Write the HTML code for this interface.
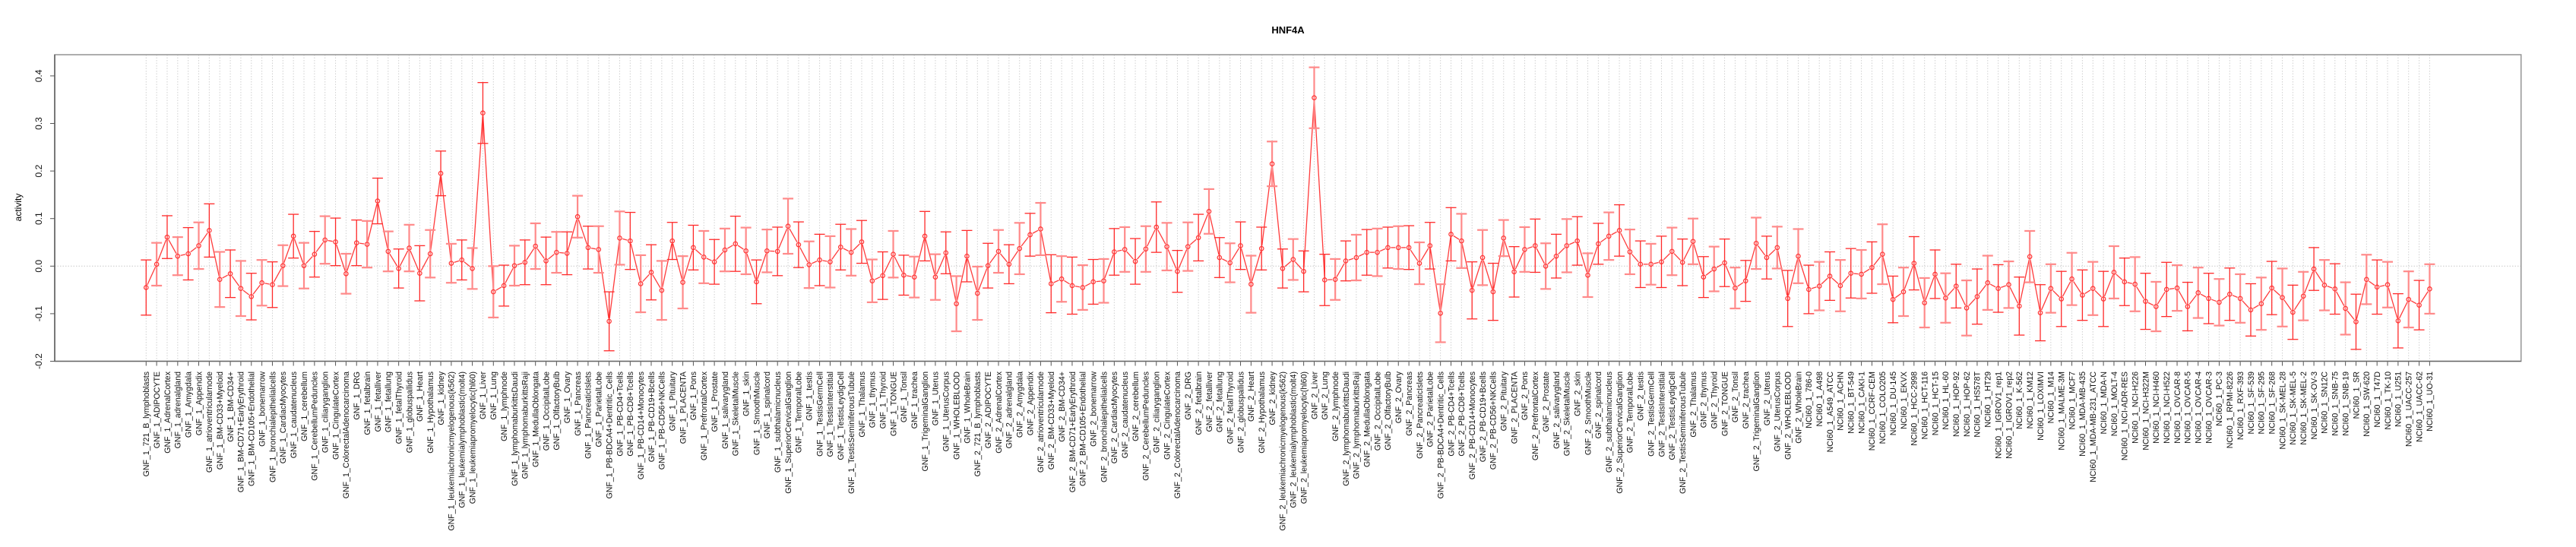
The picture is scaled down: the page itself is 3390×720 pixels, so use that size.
<!DOCTYPE html>
<html><head><meta charset="utf-8"><title>HNF4A</title>
<style>html,body{margin:0;padding:0;background:#fff}svg{display:block}text{font-family:"Liberation Sans",sans-serif}</style>
</head><body>
<svg id="chart" width="3390" height="720" viewBox="0 0 3390 720" xmlns="http://www.w3.org/2000/svg">
<rect x="0" y="0" width="3390" height="720" fill="#fff"/>
<text x="1695" y="44" text-anchor="middle" font-weight="bold" font-size="13">HNF4A</text>
<text transform="translate(28,273) rotate(-90)" text-anchor="middle" font-size="12">activity</text>
<g id="grid"></g><g id="marks"></g><g id="axes"></g><g id="xlabels"></g>
</svg>
<script>
const tissues=["721_B_lymphoblasts","ADIPOCYTE","AdrenalCortex","adrenalgland","Amygdala","Appendix","atrioventricularnode","BM-CD33+Myeloid","BM-CD34+","BM-CD71+EarlyErythroid","BM-CD105+Endothelial","bonemarrow","bronchialepithelialcells","CardiacMyocytes","caudatenucleus","cerebellum","CerebellumPeduncles","ciliaryganglion","CingulateCortex","ColorectalAdenocarcinoma","DRG","fetalbrain","fetalliver","fetallung","fetalThyroid","globuspallidus","Heart","Hypothalamus","kidney","leukemiachronicmyelogenous(k562)","leukemialymphoblastic(molt4)","leukemiapromyelocytic(hl60)","Liver","Lung","lymphnode","lymphomaburkittsDaudi","lymphomaburkittsRaji","MedullaOblongata","OccipitalLobe","OlfactoryBulb","Ovary","Pancreas","PancreaticIslets","ParietalLobe","PB-BDCA4+Dentritic_Cells","PB-CD4+Tcells","PB-CD8+Tcells","PB-CD14+Monocytes","PB-CD19+Bcells","PB-CD56+NKCells","Pituitary","PLACENTA","Pons","PrefrontalCortex","Prostate","salivarygland","SkeletalMuscle","skin","SmoothMuscle","spinalcord","subthalamicnucleus","SuperiorCervicalGanglion","TemporalLobe","testis","TestisGermCell","TestisInterstitial","TestisLeydigCell","TestisSeminiferousTubule","Thalamus","thymus","Thyroid","TONGUE","Tonsil","trachea","TrigeminalGanglion","Uterus","UterusCorpus","WHOLEBLOOD","WholeBrain"];
const nciLines=["786-0","A498","A549_ATCC","ACHN","BT-549","CAKI-1","CCRF-CEM","COLO205","DU-145","EKVX","HCC-2998","HCT-116","HCT-15","HL-60","HOP-92","HOP-62","HS578T","HT29","IGROV1_rep1","IGROV1_rep2","K-562","KM12","LOXIMVI","M14","MALME-3M","MCF7","MDA-MB-435","MDA-MB-231_ATCC","MDA-N","MOLT-4","NCI-ADR-RES","NCI-H226","NCI-H322M","NCI-H460","NCI-H522","OVCAR-8","OVCAR-5","OVCAR-4","OVCAR-3","PC-3","RPMI-8226","RXF-393","SF-539","SF-295","SF-268","SK-MEL-28","SK-MEL-5","SK-MEL-2","SK-OV-3","SN12C","SNB-75","SNB-19","SR","SW-620","T47D","TK-10","U251","UACC-257","UACC-62","UO-31"];
const categories=[].concat(tissues.map(t=>"GNF_1_"+t),tissues.map(t=>"GNF_2_"+t),nciLines.map(t=>"NCI60_1_"+t));
const values=[-0.045,0.004,0.061,0.021,0.026,0.043,0.075,-0.028,-0.016,-0.047,-0.064,-0.035,-0.039,0.001,0.063,0.001,0.025,0.055,0.051,-0.016,0.049,0.046,0.137,
0.031,-0.005,0.038,-0.015,0.026,0.195,0.006,0.013,-0.005,0.322,-0.054,-0.041,0.001,0.008,0.042,0.011,0.029,0.027,0.104,0.039,0.035,-0.116,0.059,0.053,
-0.037,-0.013,-0.051,0.053,-0.034,0.039,0.019,0.009,0.034,0.047,0.032,-0.033,0.032,0.031,0.084,0.045,0.003,0.013,0.009,0.04,0.029,0.051,-0.031,
-0.02,0.025,-0.019,-0.023,0.063,-0.023,0.028,-0.079,0.021,-0.057,0.001,0.031,0.004,0.037,0.066,0.078,-0.037,-0.027,-0.041,-0.045,-0.033,-0.031,0.03,
0.035,0.01,0.036,0.082,0.041,-0.011,0.041,0.06,0.115,0.018,0.007,0.043,-0.038,0.037,0.215,-0.005,0.014,-0.011,0.354,-0.029,-0.028,0.011,0.018,
0.029,0.029,0.039,0.039,0.039,0.006,0.043,-0.099,0.067,0.053,-0.051,0.018,-0.054,0.059,-0.012,0.035,0.043,0,0.021,0.043,0.053,-0.019,0.047,
0.063,0.075,0.03,0.004,0.004,0.009,0.031,0.008,0.052,-0.023,-0.006,0.007,-0.046,-0.031,0.048,0.018,0.039,-0.068,0.021,-0.049,-0.042,-0.021,-0.041,
-0.015,-0.017,-0.003,0.025,-0.07,-0.054,0.006,-0.077,-0.017,-0.067,-0.042,-0.088,-0.064,-0.035,-0.047,-0.039,-0.084,0.02,-0.098,-0.047,-0.069,-0.027,-0.061,
-0.047,-0.069,-0.013,-0.033,-0.038,-0.074,-0.085,-0.049,-0.046,-0.085,-0.056,-0.068,-0.076,-0.059,-0.068,-0.092,-0.079,-0.046,-0.066,-0.097,-0.063,-0.006,-0.04,
-0.048,-0.089,-0.117,-0.028,-0.044,-0.039,-0.115,-0.07,-0.082,-0.048];
const errors=[.058,.045,.045,.04,.055,.049,.056,.058,.05,.058,.049,.048,.048,.043,.046,.048,.048,.05,.05,.042,.048,.049,.048,
.042,.041,.049,.058,.05,.047,.041,.042,.043,.064,.054,.043,.042,.047,.048,.05,.043,.045,.044,.045,.049,.062,.056,.06,
.06,.058,.062,.039,.055,.047,.055,.047,.045,.058,.049,.046,.045,.051,.058,.048,.049,.054,.054,.048,.049,.045,.045,
.05,.049,.042,.043,.052,.048,.044,.058,.054,.056,.047,.045,.041,.054,.045,.055,.061,.048,.06,.047,.047,.046,.049,
.047,.048,.048,.053,.05,.044,.051,.049,.047,.042,.041,.05,.06,.045,.047,.041,.043,.043,.064,.054,.043,.042,.048,
.048,.05,.043,.045,.046,.044,.049,.061,.056,.057,.06,.058,.06,.038,.053,.047,.056,.048,.046,.056,.051,.046,.043,
.05,.054,.047,.049,.043,.054,.05,.049,.048,.043,.047,.05,.043,.043,.054,.045,.044,.059,.057,.051,.051,.051,.054,
.052,.051,.054,.063,.049,.051,.056,.052,.051,.052,.046,.058,.058,.057,.05,.049,.061,.054,.059,.051,.058,.055,.053,
.056,.058,.055,.05,.057,.059,.052,.057,.048,.051,.053,.053,.049,.055,.051,.055,.055,.056,.061,.057,.051,.045,.053,
.053,.055,.058,.052,.057,.048,.057,.059,.052,.052];
const yTicks=[-0.2,-0.1,0.0,0.1,0.2,0.3,0.4];
const yTickLabels=["-0.2","-0.1","0.0","0.1","0.2","0.3","0.4"];

const NS="http://www.w3.org/2000/svg";
const L=72,R=3317.7,T=72,B=475.5;
const n=categories.length;
const gap=(R-L)/(n-1+2*(120.3/13.85));
const x0=L+120.3/13.85*gap;
function xs(i){return x0+i*gap;}
function ys(v){return 350.3-v*626;}
function mk(tag,attrs,parent){const e=document.createElementNS(NS,tag);for(const k in attrs)e.setAttribute(k,attrs[k]);parent.appendChild(e);return e;}
const grid=document.getElementById('grid'),marks=document.getElementById('marks'),axes=document.getElementById('axes'),xl=document.getElementById('xlabels');

for(let i=0;i<n;i++){
  const g=mk('line',{x1:xs(i),x2:xs(i),y1:T,y2:B,stroke:'#d0d0d0','stroke-width':1,'stroke-dasharray':'1.5,2'},grid);
  
  
}
const zl=mk('line',{x1:L,x2:R,y1:ys(0),y2:ys(0),stroke:'#c8c8c8','stroke-width':1,'stroke-dasharray':'1.5,2'},grid);



const rr=2.7;
for(let i=0;i<n-1;i++){
  const ax=xs(i),ay=ys(values[i]),bx=xs(i+1),by=ys(values[i+1]);
  const dx=bx-ax,dy=by-ay,d=Math.hypot(dx,dy),s=(rr+1.2)/d;
  if(d>2*(rr+1.2)){
    const ln=mk('line',{x1:ax+dx*s,y1:ay+dy*s,x2:bx-dx*s,y2:by-dy*s,stroke:'#ff3b3b','stroke-width':1.3},marks);
    
    
  }
}
for(let i=0;i<n;i++){
  const x=xs(i),yh=ys(values[i]+errors[i]),yl=ys(values[i]-errors[i]);
  const eb=mk('g',{stroke:i%2?'#ff8a8a':'#ff2a2a','stroke-width':i%2?2.2:1.3,fill:'none'},marks);
  
  
  mk('line',{x1:x,x2:x,y1:yh,y2:yl},eb);
  mk('line',{x1:x-7,x2:x+7,y1:yh,y2:yh},eb);
  mk('line',{x1:x-7,x2:x+7,y1:yl,y2:yl},eb);
  const c=mk('circle',{cx:x,cy:ys(values[i]),r:rr,fill:'none',stroke:'#ff3333','stroke-width':1.2},marks);
  
  
  const tk=mk('line',{x1:x,x2:x,y1:B,y2:B+6,stroke:'#555','stroke-width':1},axes);
  
  
  const t=mk('text',{x:0,y:0,'text-anchor':'end','font-size':10.6,fill:'#111',transform:'translate('+(x+3.8)+',489) rotate(-90)'},xl);
  t.textContent=categories[i];
  
  
}
const fr=mk('rect',{x:L,y:T,width:R-L,height:B-T,fill:'none',stroke:'#999','stroke-width':1.6},axes);


const ya=mk('line',{x1:L,x2:L,y1:T,y2:B,stroke:'#666','stroke-width':1.6},axes);


const xa=mk('line',{x1:L,x2:R,y1:B,y2:B,stroke:'#666','stroke-width':1.2},axes);


for(let k=0;k<yTicks.length;k++){
  const y=ys(yTicks[k]);
  const tk=mk('line',{x1:L-6,x2:L,y1:y,y2:y,stroke:'#555','stroke-width':1},axes);
  
  
  const t=mk('text',{x:0,y:0,'text-anchor':'middle','font-size':12,fill:'#111',transform:'translate(55,'+y+') rotate(-90)'},axes);
  t.textContent=yTickLabels[k];
  
  
}
</script>
</body></html>
